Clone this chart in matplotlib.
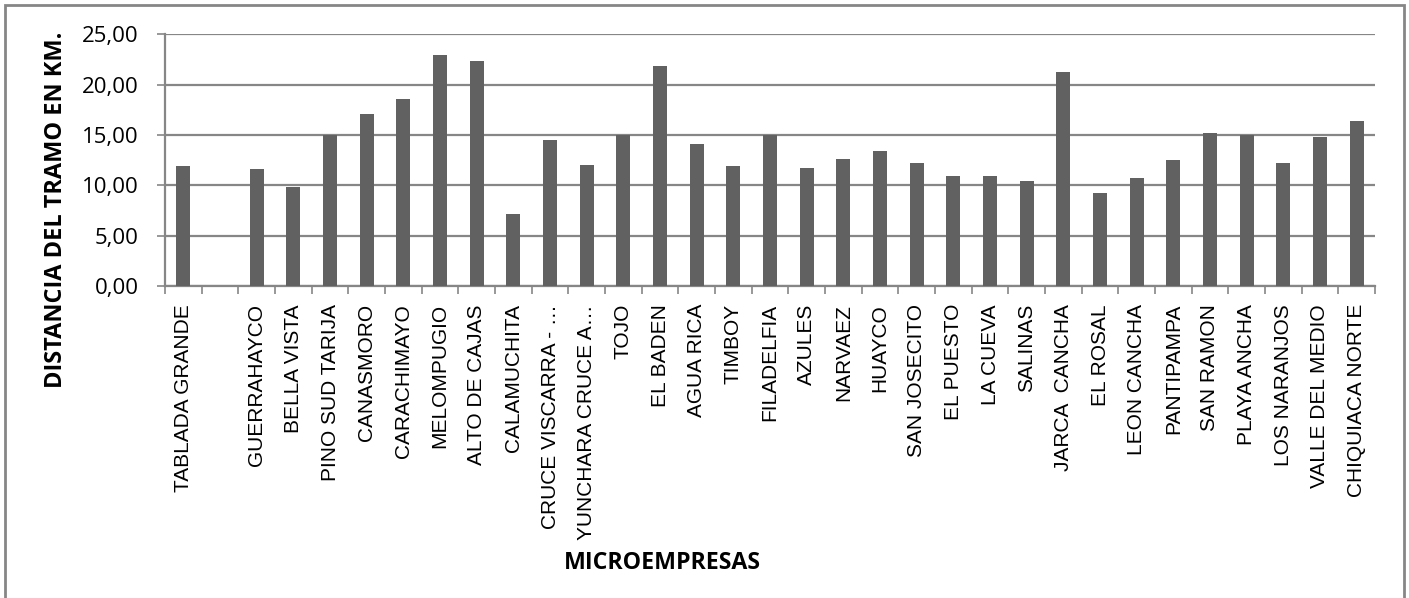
import numpy as np
import matplotlib
matplotlib.use("Agg")
import matplotlib.pyplot as plt
from matplotlib.patches import Rectangle

plt.rcParams['font.family'] = ['Open Sans', 'DejaVu Sans']

categories = ["TABLADA GRANDE", "", "GUERRAHAYCO", "BELLA VISTA", "PINO SUD TARIJA",
              "CANASMORO", "CARACHIMAYO", "MELOMPUGIO", "ALTO DE CAJAS", "CALAMUCHITA",
              "CRUCE VISCARRA - …", "YUNCHARA CRUCE A…", "TOJO", "EL BADEN", "AGUA RICA",
              "TIMBOY", "FILADELFIA", "AZULES", "NARVAEZ", "HUAYCO", "SAN JOSECITO",
              "EL PUESTO", "LA CUEVA", "SALINAS", "JARCA  CANCHA", "EL ROSAL",
              "LEON CANCHA", "PANTIPAMPA", "SAN RAMON", "PLAYA ANCHA", "LOS NARANJOS",
              "VALLE DEL MEDIO", "CHIQUIACA NORTE"]
distances = [11.92, 0.0, 11.59, 9.83, 15.0, 17.11, 18.54, 22.94, 22.34, 7.12,
             14.5, 11.98, 15.0, 21.82, 14.07, 11.88, 15.0, 11.72, 12.61, 13.44,
             12.21, 10.96, 10.96, 10.43, 21.22, 9.2, 10.7, 12.51, 15.16, 15.0,
             12.18, 14.8, 16.35]
y_ticks = [0, 5, 10, 15, 20, 25]
y_tick_labels = ["0,00", "5,00", "10,00", "15,00", "20,00", "25,00"]

grid_col = '#868686'
bar_col = '#616161'

fig = plt.figure(figsize=(14.09, 5.98), dpi=100)
ax = fig.add_axes([165/1409, 1 - 286/598, (1375-165)/1409, (286-34.3)/598])

x = np.arange(len(categories))
ax.bar(x, distances, width=0.38, color=bar_col, zorder=3)

ax.set_xlim(-0.5, len(categories) - 0.5)
ax.set_ylim(0, 25)
ax.set_yticks(y_ticks)
ax.set_yticklabels(y_tick_labels, fontsize=16)
ax.yaxis.grid(True, color=grid_col, linewidth=1.6, zorder=0)

ax.set_xticks(x)
ax.set_xticklabels(categories, rotation=90, fontsize=15.0, va='top', ha='center',
                   family=['Liberation Sans', 'DejaVu Sans'])
ax.set_xticks(np.arange(len(categories) + 1) - 0.5, minor=True)
ax.tick_params(axis='x', which='major', length=0, pad=13)
ax.tick_params(axis='x', which='minor', length=5.5, width=1.2, color=grid_col, direction='out')
ax.tick_params(axis='y', length=6, width=1.2, color=grid_col, pad=13)

for s in ['top', 'right']:
    ax.spines[s].set_visible(False)
for s in ['left', 'bottom']:
    ax.spines[s].set_color(grid_col)
    ax.spines[s].set_linewidth(1.6)

fig.text(56/1409, 1 - 210/598, "DISTANCIA DEL TRAMO EN KM.", rotation=90,
         ha='center', va='center', fontsize=16.9, fontweight='bold')
fig.text(662/1409, 1 - 563/598, "MICROEMPRESAS", ha='center', va='center',
         fontsize=16.7, fontweight='bold')

fig.patches.append(Rectangle((5/1409, -0.02), (1404-5)/1409, 1.02 - 5/598,
                             transform=fig.transFigure, fill=False,
                             edgecolor=grid_col, linewidth=2))

fig.savefig("out.png", dpi=100)
